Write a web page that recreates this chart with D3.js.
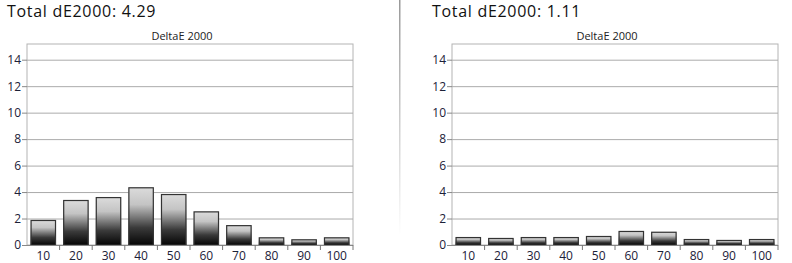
<!DOCTYPE html>
<html>
<head>
<meta charset="utf-8">
<script src="https://d3js.org/d3.v7.min.js"></script>
<style>
  body { margin: 0; background: #fff; }
  .title { font-family: "Open Sans", sans-serif; font-size: 16px; letter-spacing: 0.7px; fill: #111; }
  .sub { font-family: "Open Sans", sans-serif; font-size: 11px; fill: #222; }
  .tick text { font-family: "Open Sans", sans-serif; font-size: 12px; fill: #1c2138; }
  .tick line { stroke: #888; }
</style>
</head>
<body>
<div id="chart"></div>
<script>
const categories = ["10", "20", "30", "40", "50", "60", "70", "80", "90", "100"];
const leftValues = [1.89, 3.4, 3.62, 4.36, 3.85, 2.54, 1.5, 0.58, 0.43, 0.58];
const rightValues = [0.6, 0.53, 0.6, 0.6, 0.68, 1.06, 1.0, 0.45, 0.38, 0.45];
const yTicks = [0, 2, 4, 6, 8, 10, 12, 14];
const titles = ["Total dE2000: 4.29", "Total dE2000: 1.11"];
const subtitle = "DeltaE 2000";

const W = 792, H = 263;
const svg = d3.select("#chart").append("svg").attr("width", W).attr("height", H);

const defs = svg.append("defs");
const grad = defs.append("linearGradient").attr("id", "barGrad")
  .attr("x1", 0).attr("y1", 0).attr("x2", 0).attr("y2", 1);
grad.append("stop").attr("offset", "0%").attr("stop-color", "#dcdcdc");
grad.append("stop").attr("offset", "30%").attr("stop-color", "#c4c4c4");
grad.append("stop").attr("offset", "70%").attr("stop-color", "#3a3a3a");
grad.append("stop").attr("offset", "100%").attr("stop-color", "#050505");

const divGrad = defs.append("linearGradient").attr("id", "divGrad")
  .attr("x1", 0).attr("y1", 0).attr("x2", 0).attr("y2", 1);
divGrad.append("stop").attr("offset", "0%").attr("stop-color", "#999");
divGrad.append("stop").attr("offset", "100%").attr("stop-color", "#fff");

// divider between the two panels
svg.append("rect").attr("x", 399).attr("y", 0).attr("width", 1.5).attr("height", 235)
  .attr("fill", "url(#divGrad)");

function panel(offsetX, title, values) {
  const left = 27, right = 353, top = 44, bottom = 245;
  const g = svg.append("g").attr("transform", `translate(${offsetX},0)`);

  g.append("text").attr("class", "title").attr("x", 7).attr("y", 17).text(title);
  g.append("text").attr("class", "sub").attr("x", 182).attr("y", 40)
    .attr("text-anchor", "middle").text(subtitle);

  const x = d3.scaleBand().domain(categories).range([left, right]).paddingInner(0.22).paddingOuter(0.11);
  const y = d3.scaleLinear().domain([0, 14]).range([bottom, 59.7]);

  // frame
  g.append("rect").attr("x", left).attr("y", top).attr("width", right - left).attr("height", bottom - top)
    .attr("fill", "none").attr("stroke", "#b4b4b4");

  // grid
  g.selectAll(".grid").data(yTicks.filter(d => d > 0)).enter().append("line")
    .attr("x1", left).attr("x2", right)
    .attr("y1", d => y(d) + 0.5).attr("y2", d => y(d) + 0.5)
    .attr("stroke", "#ababab");

  // bars
  g.selectAll(".bar").data(values).enter().append("rect")
    .attr("x", (d, i) => x(categories[i]))
    .attr("y", d => y(d))
    .attr("width", x.bandwidth())
    .attr("height", d => bottom - y(d))
    .attr("fill", "url(#barGrad)");
  g.selectAll(".barTop").data(values).enter().append("rect")
    .attr("x", (d, i) => x(categories[i]) + 0.5)
    .attr("y", d => y(d) + 0.5)
    .attr("width", x.bandwidth() - 1)
    .attr("height", d => bottom - y(d) - 0.5)
    .attr("fill", "none").attr("stroke", "#333").attr("stroke-width", 1.2);

  // y axis
  const ya = g.append("g").attr("transform", `translate(${left},0)`)
    .call(d3.axisLeft(y).tickValues(yTicks).tickSize(5).tickPadding(1));
  ya.select(".domain").remove();

  // x axis with ticks at band boundaries
  const xa = g.append("g").attr("transform", `translate(0,${bottom})`);
  xa.append("line").attr("x1", left).attr("x2", right).attr("y1", 0.5).attr("y2", 0.5).attr("stroke", "#888");
  const bounds = d3.range(1, categories.length + 1).map(i => left + (right - left) * i / categories.length);
  xa.selectAll(".xt").data(bounds).enter().append("line")
    .attr("x1", d => d).attr("x2", d => d).attr("y1", 0).attr("y2", 5).attr("stroke", "#777");
  xa.selectAll(".xl").data(categories).enter().append("text")
    .attr("x", d => x(d) + x.bandwidth() / 2).attr("y", 14.5)
    .attr("text-anchor", "middle")
    .style("font-family", "'Open Sans', sans-serif").style("font-size", "12px").style("fill", "#1c2138")
    .text(d => d);
}

panel(0, titles[0], leftValues);
panel(425, titles[1], rightValues);
</script>
</body>
</html>
